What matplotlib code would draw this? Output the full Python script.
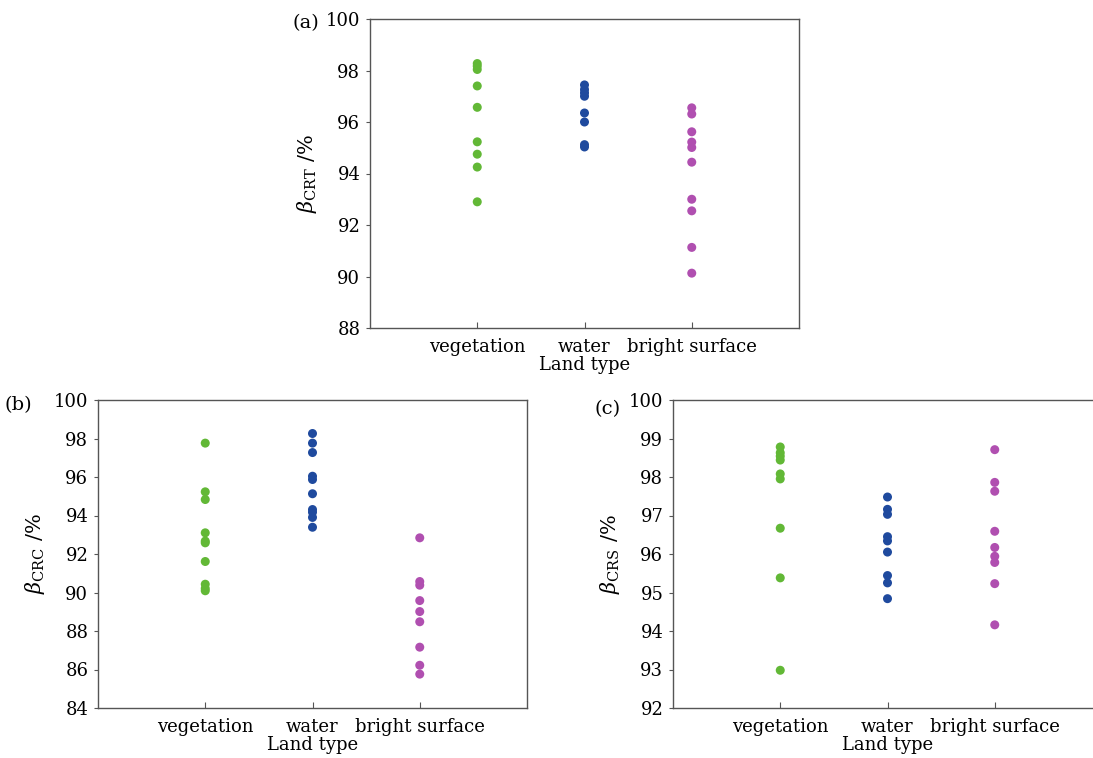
import matplotlib
matplotlib.use("Agg")
import matplotlib.pyplot as plt

plt.rcParams['font.family'] = ['DejaVu Serif']
plt.rcParams['mathtext.fontset'] = 'dejavuserif'

categories = ["vegetation", "water", "bright surface"]

# Panel (a): beta_CRT
crt_veg = [98.27, 98.17, 98.04, 97.40, 96.57, 95.23, 94.75, 94.25, 92.90]
crt_water = [97.44, 97.26, 97.13, 97.00, 96.35, 96.00, 95.12, 95.03]
crt_bright = [96.55, 96.31, 95.62, 95.22, 95.01, 94.44, 93.00, 92.55, 91.13, 90.13]

# Panel (b): beta_CRC
crc_veg = [97.76, 95.23, 94.83, 93.10, 92.67, 92.58, 91.61, 90.43, 90.21, 90.09]
crc_water = [98.26, 97.76, 97.27, 96.04, 95.87, 95.13, 94.31, 94.17, 93.90, 93.39]
crc_bright = [92.84, 90.57, 90.38, 89.58, 89.01, 88.48, 87.16, 86.22, 85.76]

# Panel (c): beta_CRS
crs_veg = [98.78, 98.63, 98.54, 98.44, 98.08, 97.95, 96.67, 95.38, 92.98]
crs_water = [97.48, 97.16, 97.03, 96.45, 96.34, 96.05, 95.44, 95.25, 94.84]
crs_bright = [98.71, 97.86, 97.63, 96.59, 96.17, 95.94, 95.78, 95.23, 94.16]

colors = ["#62b836", "#1f4a9e", "#b04fb0"]

W, H = 1093, 758
fig = plt.figure(figsize=(W / 100, H / 100), dpi=100)


def px_axes(left, top, right, bottom):
    return fig.add_axes([left / W, 1 - bottom / H, (right - left) / W, (bottom - top) / H])


def draw(ax, groups, ylim, yticks, sub, panel_label, label_xy):
    for i, (vals, c) in enumerate(zip(groups, colors)):
        ax.scatter([i + 1] * len(vals), vals, s=42, color=c, edgecolors='none', zorder=3)
    ax.set_xlim(0, 4)
    ax.set_ylim(*ylim)
    ax.set_yticks(yticks)
    ax.set_xticks([1, 2, 3])
    ax.set_xticklabels(categories, fontsize=13)
    ax.tick_params(axis='y', labelsize=13, direction='out', length=3, color='#555555', pad=4)
    ax.tick_params(axis='x', direction='in', length=4, color='#555555', pad=7)
    for s in ax.spines.values():
        s.set_color('#555555')
        s.set_linewidth(1.0)
    ax.set_xlabel("Land type", fontsize=13, labelpad=0)
    ax.set_ylabel(r"$\beta_{\mathrm{" + sub + r"}}$ /%", fontsize=15, labelpad=5)
    fig.text(label_xy[0] / W, 1 - label_xy[1] / H, panel_label, fontsize=14,
             ha='left', va='center')


ax_a = px_axes(370, 19, 799, 328)
draw(ax_a, [crt_veg, crt_water, crt_bright], (88, 100), range(88, 101, 2), "CRT", "(a)", (293, 23))

ax_b = px_axes(98, 400, 527, 708)
draw(ax_b, [crc_veg, crc_water, crc_bright], (84, 100), range(84, 101, 2), "CRC", "(b)", (5, 405))

ax_c = px_axes(673, 400, 1102, 708)
draw(ax_c, [crs_veg, crs_water, crs_bright], (92, 100), range(92, 101, 1), "CRS", "(c)", (595, 409))

fig.savefig("out.png", dpi=100)
